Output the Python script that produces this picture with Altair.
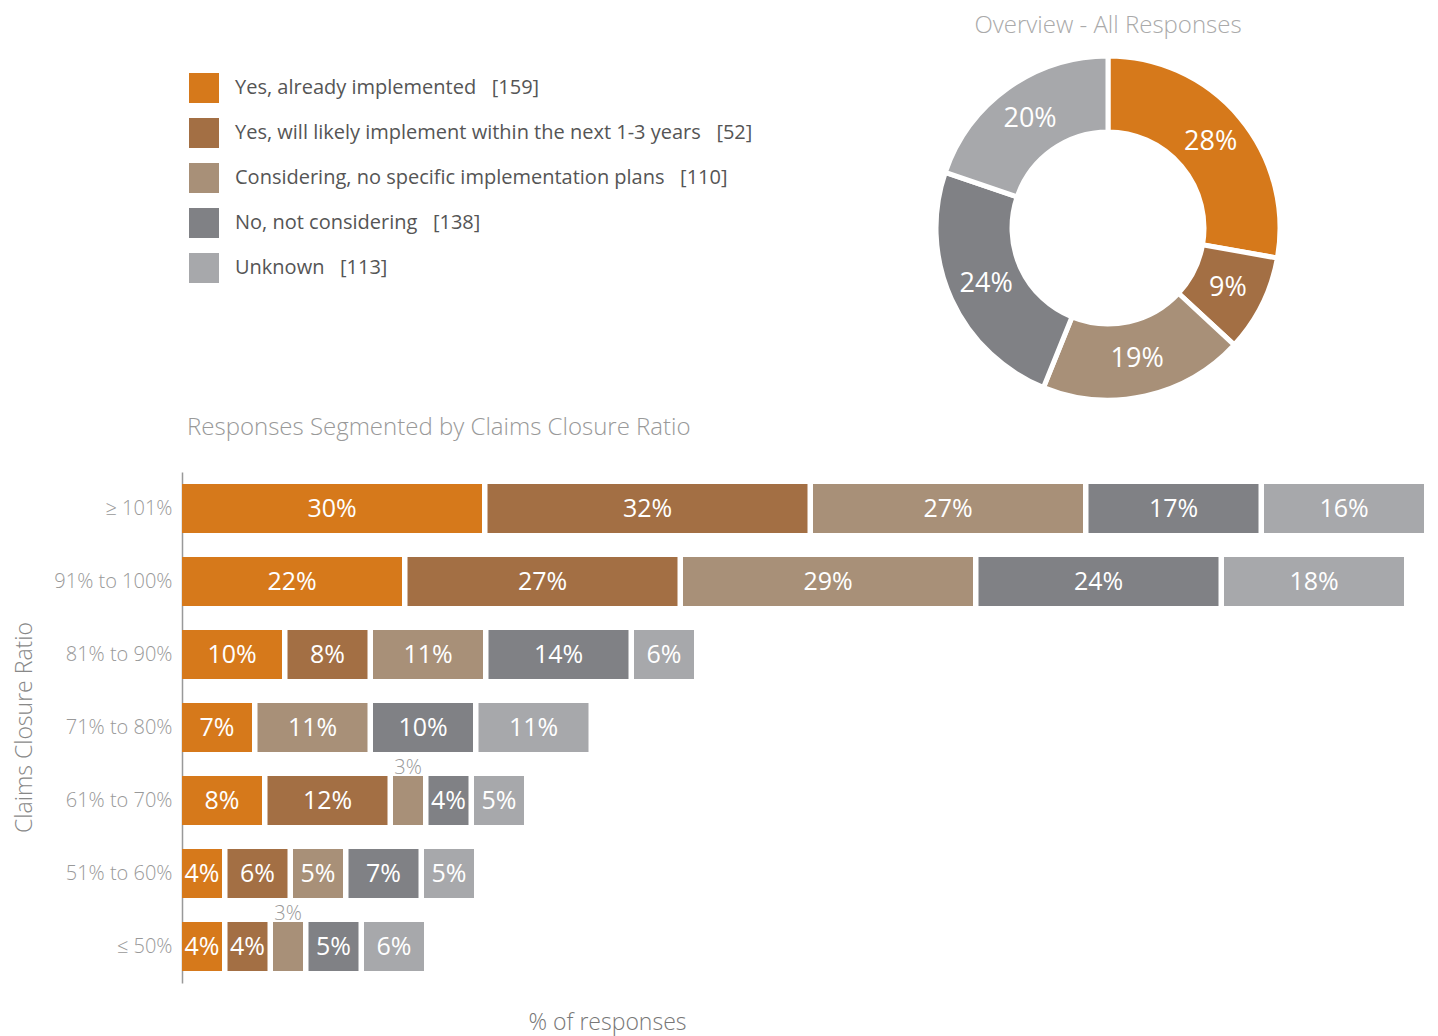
import altair as alt
import pandas as pd

# ---- data ----
categories = [
    "Yes, already implemented",
    "Yes, will likely implement within the next 1-3 years",
    "Considering, no specific implementation plans",
    "No, not considering",
    "Unknown",
]
counts = [159, 52, 110, 138, 113]
colors = ["#D6791B", "#A36F44", "#A89078", "#808185", "#A7A8AB"]

rows = ["≥ 101%", "91% to 100%", "81% to 90%", "71% to 80%",
        "61% to 70%", "51% to 60%", "≤ 50%"]
yes_implemented = [30, 22, 10, 7, 8, 4, 4]
yes_likely = [32, 27, 8, 0, 12, 6, 4]
considering = [27, 29, 11, 11, 3, 5, 3]
not_considering = [17, 24, 14, 10, 4, 7, 5]
unknown = [16, 18, 6, 11, 5, 5, 6]

series = [yes_implemented, yes_likely, considering, not_considering, unknown]

# long table for bars
recs = []
for ci, (cat, vals) in enumerate(zip(categories, series)):
    for ri, (r, v) in enumerate(zip(rows, vals)):
        recs.append({"row": r, "ridx": ri, "cat": cat, "cidx": ci, "value": v})
bars_df = pd.DataFrame(recs)

donut_df = pd.DataFrame({"cat": categories, "cidx": range(len(categories)), "count": counts})

GAP = 0.55  # gap between bars in % units
FONT = "Open Sans"
LIGHT = 300
NBSP = "\u00a0"

color_scale = alt.Scale(domain=categories, range=colors)
count_map = "{" + ",".join(f"'{c}': '[{n}]'" for c, n in zip(categories, counts)) + "}"

legend = alt.Legend(
    title=None, orient="none", legendX=7, legendY=-399,
    symbolType="square", symbolSize=900, symbolStrokeWidth=0, symbolOpacity=1,
    labelFontSize=20, labelColor="#555555", labelFont=FONT, labelFontWeight=400,
    labelOffset=16, rowPadding=15, labelLimit=700,
    labelExpr=f"datum.label + '{NBSP * 3}' + " + count_map + "[datum.label]",
)

base = alt.Chart(bars_df).transform_filter("datum.value > 0").transform_window(
    cum="sum(value)", rank="row_number()", groupby=["row"], sort=[alt.SortField("cidx")]
).transform_calculate(
    x0=f"datum.cum - datum.value + (datum.rank - 1) * {GAP}",
    x1=f"datum.cum + (datum.rank - 1) * {GAP}",
    xm=f"datum.cum - datum.value / 2 + (datum.rank - 1) * {GAP}",
    label="datum.value + '%'",
)

y_enc = alt.Y(
    "row:N", sort=rows,
    scale=alt.Scale(paddingInner=0.33, paddingOuter=0.165),
    axis=alt.Axis(
        title="Claims Closure Ratio", titleFontSize=23, titleColor="#888888",
        titleFont=FONT, titleFontWeight=LIGHT,
        titleX=-158, titleY=255, titleAngle=-90, titleAlign="center", titleBaseline="middle",
        labelFontSize=20, labelColor="#999999", labelFont=FONT, labelFontWeight=LIGHT,
        labelPadding=10, ticks=False, domainColor="#999999", domainWidth=1.5,
    ),
)
x_scale = alt.Scale(domain=[0, 124.6], nice=False, zero=True)
x_axis = alt.Axis(
    title="% of responses", titleFontSize=23, titleColor="#777777", titleFont=FONT,
    titleFontWeight=LIGHT, titleX=425, titleY=39, titleAlign="center", titleBaseline="middle",
    labels=False, ticks=False, domain=False, grid=False,
)

bars = base.mark_bar().encode(
    x=alt.X("x0:Q", scale=x_scale, axis=x_axis),
    x2="x1:Q",
    y=y_enc,
    color=alt.Color("cat:N", scale=color_scale, legend=legend),
)

inside = base.transform_filter("datum.value > 3").mark_text(
    color="white", fontSize=25, font=FONT, fontWeight=400, baseline="middle", align="center"
).encode(x="xm:Q", y=alt.Y("row:N", sort=rows), text="label:N")

above = base.transform_filter("datum.value <= 3").mark_text(
    color="#999999", fontSize=20, font=FONT, fontWeight=LIGHT, baseline="alphabetic",
    align="center", dy=-27
).encode(x="xm:Q", y=alt.Y("row:N", sort=rows), text="label:N")

donut_base = alt.Chart(donut_df).transform_joinaggregate(total="sum(count)").transform_calculate(
    pct="round(100 * datum.count / datum.total) + '%'"
)

arc = donut_base.mark_arc(outerRadius=172, innerRadius=96, stroke="white", strokeWidth=5).encode(
    theta=alt.Theta("count:Q", stack=True),
    color=alt.Color("cat:N", scale=color_scale, legend=legend),
    order=alt.Order("cidx:Q"),
    x=alt.value(926), y=alt.value(-244),
)
arc_text = donut_base.mark_text(radius=134, color="white", fontSize=27, font=FONT,
                                fontWeight=400).encode(
    theta=alt.Theta("count:Q", stack=True),
    order=alt.Order("cidx:Q"),
    text="pct:N",
    x=alt.value(926), y=alt.value(-244),
)

titles_df = pd.DataFrame({"t": ["Overview - All Responses"]})
overview_title = alt.Chart(titles_df).mark_text(
    fontSize=24, color="#AAAAAA", font=FONT, fontWeight=LIGHT, align="center", baseline="middle"
).encode(text="t:N", x=alt.value(926), y=alt.value(-446))

sub_df = pd.DataFrame({"t": ["Responses Segmented by Claims Closure Ratio"]})
bar_title = alt.Chart(sub_df).mark_text(
    fontSize=24, color="#999999", font=FONT, fontWeight=LIGHT, align="left", baseline="middle"
).encode(text="t:N", x=alt.value(5), y=alt.value(-44))

chart = alt.layer(bars, inside, above, arc, arc_text, overview_title, bar_title).properties(
    width=1246, height=511,
    autosize=alt.AutoSizeParams(type="none"),
    padding={"left": 174, "top": 464, "right": 0, "bottom": 53},
).configure(font=FONT).configure_view(strokeWidth=0, stroke=None)

chart.save("out.html", embed_options={"renderer": "svg", "actions": False})
